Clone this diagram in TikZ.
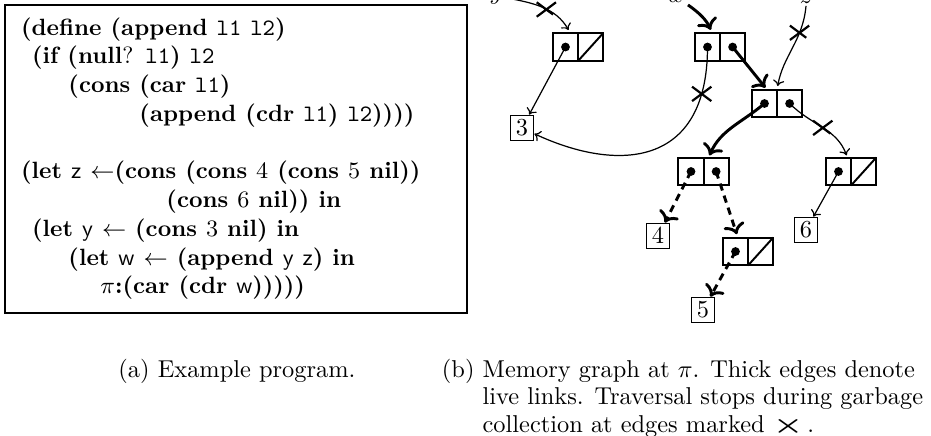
\RequirePackage{fix-cm}
\documentclass[tikz,border=0pt]{standalone}
\usetikzlibrary{positioning,shapes.misc,arrows.meta}
\newcommand{\codett}[1]{\texttt{\mdseries #1}}
\newcommand{\codesf}[1]{\textsf{\mdseries #1}}

\begin{document}
\begin{tikzpicture}[x=0.41pt,y=0.41pt,
    cell/.style={draw,line width=0.8pt,minimum width=10.3pt,minimum height=11.4pt,inner sep=0pt,outer sep=0pt},
    atom/.style={draw,line width=0.6pt,minimum width=9.6pt,minimum height=10.4pt,inner sep=0pt},
    codeline/.style={anchor=base west,inner sep=0pt,font=\fontsize{9.65}{12}\selectfont\bfseries},
    lbl/.style={anchor=base,inner sep=1pt},
    ptr/.style={-{To[length=2.4pt,width=4.6pt]},line width=0.5pt},
    live/.style={->,line width=1.2pt},
    livedash/.style={live,dash pattern=on 3pt off 2.2pt},
    xmark/.style={cross out,draw,line width=0.9pt,minimum width=7pt,minimum height=5pt,inner sep=0pt}]
    \useasboundingbox (0,0) rectangle (931,-435);

    % (a) the program
    \draw[line width=1.1pt] (5,-5) rectangle (467,-313);
    \node[codeline] (c1) at (20.7,-35) {(define (append \codett{l1} \codett{l2})};
    \node[codeline] (c2) at (31.7,-63.7) {(if (null\textmd{?} \codett{l1}) \codett{l2}};
    \node[codeline] (c3) at (68,-92.4) {(cons (car \codett{l1})};
    \node[codeline] (c4) at (139,-121) {(append (cdr \codett{l1}) \codett{l2}))))};
    \node[codeline] (c5) at (20.7,-178.5) {(let \codesf{z} $\leftarrow$(cons (cons $4$ (cons $5$ nil))};
    \node[codeline] (c6) at (166,-207) {(cons $6$ nil)) in};
    \node[codeline] (c7) at (31.7,-236) {(let \codesf{y} $\leftarrow$ (cons $3$ nil) in};
    \node[codeline] (c8) at (68,-265) {(let \codesf{w} $\leftarrow$ (append \codesf{y} \codesf{z}) in};
    \node[codeline] (c9) at (100,-293) {$\pi$:(car (cdr \codesf{w})))))};

    % (b) the memory graph
    \node[cell] (ycar) at (565.5,-47) {};
    \node[cell,right=0pt of ycar] (ycdr) {};
    \node[cell] (wcar) at (707.5,-47) {};
    \node[cell,right=0pt of wcar] (wcdr) {};
    \node[cell] (zcar) at (764.5,-103.5) {};
    \node[cell,right=0pt of zcar] (zcdr) {};
    \node[cell] (acar) at (691,-171.5) {};
    \node[cell,right=0pt of acar] (acdr) {};
    \node[cell] (ccar) at (838.5,-171.5) {};
    \node[cell,right=0pt of ccar] (ccdr) {};
    \node[cell] (bcar) at (735.5,-251.5) {};
    \node[cell,right=0pt of bcar] (bcdr) {};

    \node[atom] (n3) at (522,-128) {$3$};
    \node[atom] (n4) at (658,-236) {$4$};
    \node[atom] (n6) at (806,-230) {$6$};
    \node[atom] (n5) at (703,-310) {$5$};

    \foreach \c in {ycar,wcar,wcdr,zcar,zcdr,acar,acdr,ccar,bcar}
        \fill (\c.center) circle (1.8pt);
    \foreach \c in {ycdr,ccdr,bcdr}
        \draw[line width=0.8pt] (\c.south west) -- (\c.north east);

    \node[lbl] (ly) at (496,1) {$y$};
    \node[lbl] (lw) at (676,-2) {$w$};
    \node[lbl] (lz) at (806,-3) {$z$};

    \draw[ptr,shorten >=1.5pt] (ly) to[out=-10,in=120] node[xmark,pos=0.55] {} ([xshift=2pt]ycar.north);
    \draw[live,shorten >=1.5pt] (lw.south east) to[out=-35,in=115] ([xshift=2pt]wcar.north);
    \draw[ptr,shorten >=1.5pt] (lz.south) to[out=-95,in=80] node[xmark,pos=0.3] {} (zcar.north east);
    \draw[ptr] (ycar.center) -- (n3);
    \draw[ptr] (wcar.center) to[out=-90,in=-25,out looseness=1.6,in looseness=1.2] node[xmark,pos=0.15] {} (n3);
    \draw[live,shorten >=1pt] (wcdr.center) -- ([xshift=1pt]zcar.north);
    \draw[live,shorten >=1pt] (zcar.center) to[out=-140,in=66] ([xshift=2pt]acar.north east);
    \draw[ptr,shorten >=1pt] (zcdr.center) to[out=-45,in=110] node[xmark,pos=0.5] {} ([xshift=-1.5pt]ccar.north east);
    \draw[livedash] (acar.center) -- (n4);
    \draw[livedash,shorten >=1.5pt] (acdr.center) -- ([xshift=1pt]bcar.north);
    \draw[livedash] (bcar.center) -- (n5);
    \draw[ptr] (ccar.center) -- (n6);

    % captions
    \node[anchor=base west,inner sep=0pt] (capa) at (118,-377) {(a) Example program.};
    \node[anchor=base west,inner sep=0pt,font=\fontsize{10}{11.3}\selectfont] (capb) at (441.5,-377)
        {\begin{tabular}[t]{@{}l@{\ }l@{}}
        (b) & Memory graph at $\pi$. Thick edges denote\\
            & live links. Traversal stops during garbage\\
            & collection at edges marked {\boldmath\scalebox{1.4}[1]{$\times$}}\,.
        \end{tabular}};
\end{tikzpicture}
\end{document}
